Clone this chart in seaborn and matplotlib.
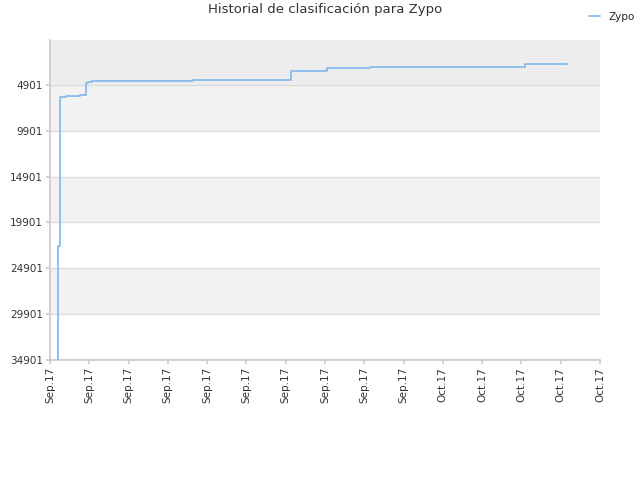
import matplotlib
matplotlib.use('Agg')
import matplotlib.pyplot as plt
import seaborn as sns
import pandas as pd

# datos (días desde el inicio, posición)
dias = [0.20, 0.21, 0.23, 0.25, 0.41, 0.76, 0.92, 0.97, 1.07, 3.64, 6.11, 6.13, 6.21,
        6.97, 7.05, 8.12, 8.14, 11.98, 12.09, 13.16]
posicion = [34901, 22450, 22450, 6250, 6150, 6000, 4700, 4550, 4450, 4350, 4350, 3450, 3350,
            3350, 3050, 3050, 2950, 2950, 2650, 2650]
yticks = [4901, 9901, 14901, 19901, 24901, 29901, 34901]
xticks = list(range(15))
xlabels = ['Sep.17'] * 10 + ['Oct.17'] * 5

df = pd.DataFrame({'dia': dias, 'posicion': posicion})

sns.set_theme(style='white')
fig, ax = plt.subplots(figsize=(6.4, 4.8), dpi=100)
fig.subplots_adjust(left=0.078, right=0.9375, top=0.917, bottom=0.25)

# bandas de fondo
bandas = [(0, 4901, '#ededed'), (4901, 9901, '#f2f2f2'), (14901, 19901, '#f2f2f2'),
          (24901, 29901, '#f2f2f2')]
for a, b, c in bandas:
    ax.axhspan(a, b, color=c, zorder=0, lw=0)
for t in yticks:
    ax.axhline(t, color='#dddddd', lw=1, zorder=1)

sns.lineplot(data=df, x='dia', y='posicion', drawstyle='steps-post', color='#88bbee',
             lw=1.3, ax=ax, label='Zypo', zorder=3)

ax.set_xlim(0, 14)
ax.set_ylim(34901, 0)
ax.set_yticks(yticks)
ax.set_yticklabels([str(t) for t in yticks], fontsize=7.5, color='#333333')
ax.set_xticks(xticks)
ax.set_xticklabels(xlabels, rotation=90, fontsize=7.5, color='#333333')
ax.tick_params(axis='both', length=3, color='#cccccc', pad=2)
ax.tick_params(axis='x', bottom=True)
ax.tick_params(axis='y', left=True)
ax.set_xlabel('')
ax.set_ylabel('')
for s in ['top', 'right']:
    ax.spines[s].set_visible(False)
for s in ['left', 'bottom']:
    ax.spines[s].set_color('#cccccc')

ax.set_title('Historial de clasificación para Zypo', fontsize=9.5, color='#333333', pad=19)
ax.legend(loc='upper right', bbox_to_anchor=(1.07, 1.1), frameon=False, fontsize=7.5,
          handlelength=1, borderaxespad=0)

fig.savefig('out.png', dpi=100)
